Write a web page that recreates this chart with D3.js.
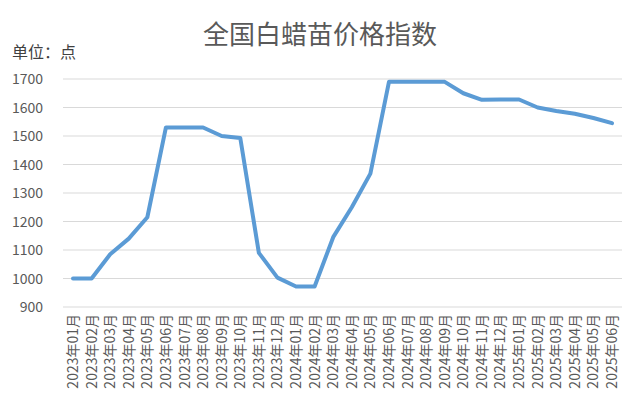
<!DOCTYPE html><html><head><meta charset="utf-8"><script src="https://cdn.jsdelivr.net/npm/d3@7"></script>
<style>body{margin:0;background:#fff}</style></head><body><svg id="c" width="644" height="417"></svg><script>
const categories=["2023年01月","2023年02月","2023年03月","2023年04月","2023年05月","2023年06月","2023年07月","2023年08月","2023年09月","2023年10月","2023年11月","2023年12月","2024年01月","2024年02月","2024年03月","2024年04月","2024年05月","2024年06月","2024年07月","2024年08月","2024年09月","2024年10月","2024年11月","2024年12月","2025年01月","2025年02月","2025年03月","2025年04月","2025年05月","2025年06月"];
const values=[1000,1000,1085,1140,1215,1530,1530,1530,1500,1493,1090,1003,972,972,1145,1250,1368,1690,1690,1690,1690,1650,1627,1628,1628,1600,1588,1578,1563,1545];
const yTicks=[900,1000,1100,1200,1300,1400,1500,1600,1700];
const svg=d3.select("#c"),F="'Noto Sans CJK SC',sans-serif";
const x=d3.scalePoint().domain(categories).range([73,612]);
const y=d3.scaleLinear().domain([900,1700]).range([307,79]);
svg.append("g").selectAll("line").data(yTicks).join("line").attr("x1",63).attr("x2",622).attr("y1",d=>y(d)).attr("y2",d=>y(d)).attr("stroke","#d9d9d9");
svg.append("g").selectAll("text").data(yTicks).join("text").attr("x",43).attr("y",d=>y(d)+5).attr("text-anchor","end").attr("font-family",F).attr("font-size",14).attr("fill","#595959").text(d=>d);
svg.append("g").selectAll("text").data(categories).join("text").attr("transform",d=>`translate(${x(d)+5},314) rotate(-90)`).attr("text-anchor","end").attr("font-family",F).attr("font-size",14).attr("fill","#595959").text(d=>d);
svg.append("path").datum(values).attr("fill","none").attr("stroke","#5b9bd5").attr("stroke-width",4).attr("stroke-linejoin","round").attr("stroke-linecap","round")
 .attr("d",d3.line().x((d,i)=>x(categories[i])).y(d=>y(d)));
svg.append("text").attr("x",320).attr("y",44).attr("text-anchor","middle").attr("font-family",F).attr("font-size",26).attr("fill","#595959").text("全国白蜡苗价格指数");
svg.append("text").attr("x",12).attr("y",58).attr("font-family",F).attr("font-size",16).attr("fill","#404040").text("单位：点");
</script></body></html>
